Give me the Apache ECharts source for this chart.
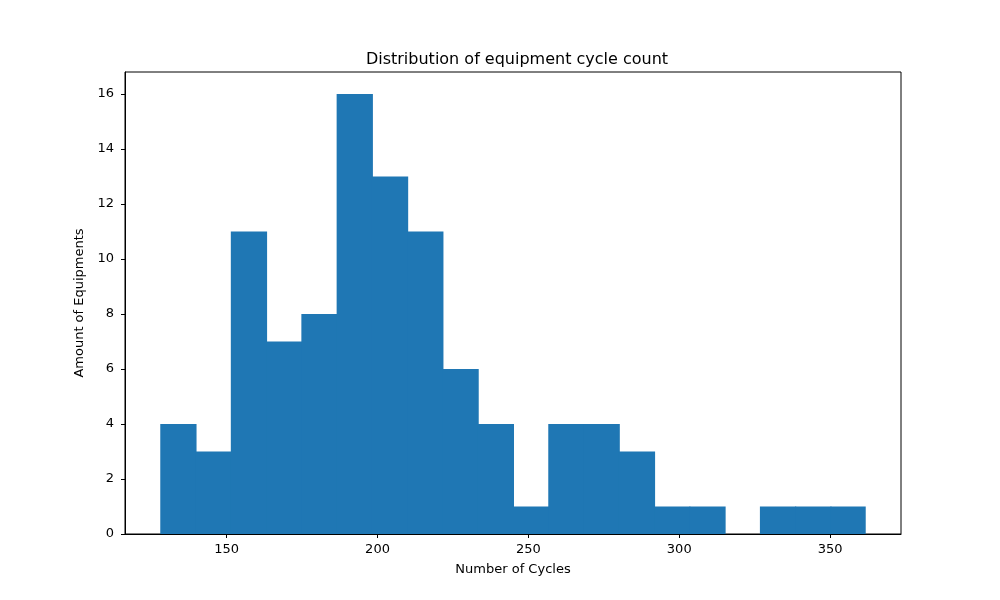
<!DOCTYPE html>
<html>
<head>
<meta charset="utf-8">
<script src="https://cdn.jsdelivr.net/npm/echarts@6/dist/echarts.min.js"></script>
<style>
  html, body { margin: 0; padding: 0; background: #fff; }
  #chart { width: 1000px; height: 600px; }
</style>
</head>
<body>
<div id="chart"></div>
<script>
// Histogram of equipment cycle counts (20 equal-width bins)
var binEdges = [128.0, 139.69, 151.38, 163.07, 174.76, 186.45, 198.14, 209.83, 221.52, 233.21,
                244.9, 256.59, 268.28, 279.97, 291.66, 303.35, 315.04, 326.73, 338.42, 350.11, 361.8];
var counts = [4, 3, 11, 7, 8, 16, 13, 11, 6, 4, 1, 4, 4, 3, 1, 1, 0, 1, 1, 1];
var xTicks = [150, 200, 250, 300, 350];
var yTicks = [0, 2, 4, 6, 8, 10, 12, 14, 16];

var chart = echarts.init(document.getElementById("chart"));

var data = counts.map(function (c, i) {
  return [binEdges[i], binEdges[i + 1], c];
});

var font = "DejaVu Sans";

chart.setOption({
  animation: false,
  title: {
    text: "Distribution of equipment cycle count",
    left: 512, top: 47, textAlign: "center",
    textStyle: { fontFamily: font, fontSize: 16, fontWeight: "normal", color: "#000" }
  },
  grid: {
    left: 125, right: 99, top: 72, bottom: 66,
    show: true, borderColor: "#000", borderWidth: 1
  },
  xAxis: {
    type: "value",
    min: 116.31, max: 373.49,
    splitLine: { show: false },
    axisLine: { show: true, lineStyle: { color: "#000" } },
    axisTick: { show: true, length: 4, customValues: xTicks, lineStyle: { color: "#000" } },
    axisLabel: { customValues: xTicks, color: "#000", fontFamily: font, fontSize: 13, margin: 9 },
    name: "Number of Cycles",
    nameLocation: "middle", nameGap: 29,
    nameTextStyle: { fontFamily: font, fontSize: 13, color: "#000" }
  },
  yAxis: {
    type: "value",
    min: 0, max: 16.8,
    splitLine: { show: false },
    axisLine: { show: true, lineStyle: { color: "#000" } },
    axisTick: { show: true, length: 4, customValues: yTicks, lineStyle: { color: "#000" } },
    axisLabel: { customValues: yTicks, color: "#000", fontFamily: font, fontSize: 13, margin: 11 },
    name: "Amount of Equipments",
    nameLocation: "middle", nameGap: 34,
    nameTextStyle: { fontFamily: font, fontSize: 13, color: "#000" }
  },
  series: [{
    type: "custom",
    data: data,
    encode: { x: [0, 1], y: 2 },
    renderItem: function (params, api) {
      if (!api.value(2)) return null;
      var p0 = api.coord([api.value(0), 0]);
      var p1 = api.coord([api.value(1), api.value(2)]);
      // overlap neighbours slightly so no seam shows between adjacent bins
      var extra = params.dataIndex < counts.length - 1 ? 1 : 0;
      return {
        type: "rect",
        shape: { x: p0[0], y: p1[1], width: p1[0] - p0[0] + extra, height: p0[1] - p1[1] },
        style: { fill: "#1f77b4" }
      };
    }
  }]
});
</script>
</body>
</html>
